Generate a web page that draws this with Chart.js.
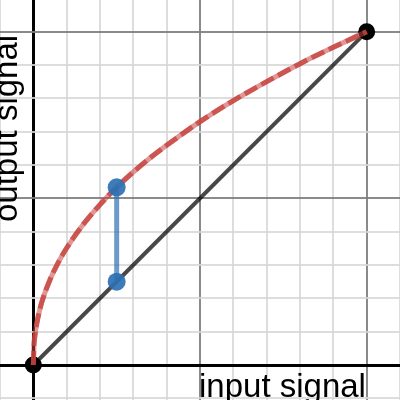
<!DOCTYPE html>
<html>
<head>
<meta charset="utf-8">
<script src="https://cdn.jsdelivr.net/npm/chart.js@4"></script>
<style>
html,body{margin:0;padding:0;background:#fff;}
#wrap{width:400px;height:400px;position:relative;}
</style>
</head>
<body>
<div id="wrap"><canvas id="c" width="400" height="400"></canvas></div>
<script>
// Values
const curveX = [0, 0.002, 0.005, 0.01, 0.02, 0.03, 0.05, 0.075, 0.1, 0.15, 0.2, 0.25, 0.3, 0.35, 0.4, 0.5, 0.6, 0.7, 0.8, 0.9, 1.0];
const curveY = [0, 0.06, 0.09, 0.123, 0.169, 0.203, 0.256, 0.308, 0.351, 0.422, 0.481, 0.533, 0.579, 0.621, 0.659, 0.73, 0.793, 0.85, 0.904, 0.953, 1.0];
const diagX = [0, 1];
const diagY = [0, 1];
const sampleX = [0.25, 0.25];
const sampleY = [0.25, 0.533];
const gridValues = [-0.1, 0, 0.1, 0.2, 0.3, 0.4, 0.5, 0.6, 0.7, 0.8, 0.9, 1.0, 1.1];
const xLabel = 'input signal';
const yLabel = 'output signal';

const toPts = (xs, ys) => xs.map((x, i) => ({x: x, y: ys[i]}));

function kind(v) {
  if (Math.abs(v) < 1e-9) return 'axis';
  if (Math.abs(v * 2 - Math.round(v * 2)) < 1e-6) return 'major';
  return 'minor';
}
function gridColor(ctx) {
  const k = kind(ctx.tick ? ctx.tick.value : NaN);
  if (k === 'axis') return '#000';
  if (k === 'major') return 'rgba(125,125,125,0.9)';
  return 'rgba(215,215,215,0.85)';
}
function gridWidth(ctx) {
  const k = kind(ctx.tick ? ctx.tick.value : NaN);
  return k === 'axis' ? 3 : 2;
}
function setTicks(scale) {
  scale.ticks = gridValues.map(v => ({value: v}));
}

const labelPlugin = {
  id: 'labels',
  afterDraw(chart) {
    const ctx = chart.ctx;
    ctx.save();
    ctx.fillStyle = '#000';
    ctx.font = '33px "Liberation Sans", Arial, sans-serif';
    ctx.textBaseline = 'alphabetic';
    ctx.textAlign = 'left';
    ctx.fillText(xLabel, 199, 397);
    ctx.translate(17, 222);
    ctx.rotate(-Math.PI / 2);
    ctx.fillText(yLabel, 0, 0);
    ctx.restore();
  }
};

new Chart(document.getElementById('c'), {
  type: 'scatter',
  data: {
    datasets: [
      {
        data: toPts(sampleX, sampleY),
        showLine: true,
        borderColor: 'rgba(45,112,179,0.7)',
        borderWidth: 5,
        pointRadius: 9,
        pointBackgroundColor: 'rgba(45,112,179,0.92)',
        pointBorderWidth: 0,
        order: 1
      },
      {
        data: toPts(curveX, curveY),
        showLine: true,
        borderColor: 'rgba(199,68,64,0.8)',
        borderWidth: 5,
        borderDash: [14, 5],
        pointRadius: 0,
        cubicInterpolationMode: 'monotone',
        order: 2
      },
      {
        data: toPts(curveX, curveY),
        showLine: true,
        borderColor: 'rgba(199,68,64,0.55)',
        borderWidth: 5,
        pointRadius: 0,
        cubicInterpolationMode: 'monotone',
        order: 3
      },
      {
        data: toPts(diagX, diagY),
        showLine: true,
        borderColor: 'rgba(0,0,0,0.72)',
        borderWidth: 4,
        pointRadius: 8.5,
        pointBackgroundColor: '#000',
        pointBorderWidth: 0,
        order: 4
      }
    ]
  },
  options: {
    responsive: false,
    animation: false,
    layout: {padding: 0, autoPadding: false},
    plugins: {legend: {display: false}, tooltip: {enabled: false}},
    scales: {
      x: {
        type: 'linear', min: -0.1, max: 1.1,
        ticks: {display: false},
        afterBuildTicks: setTicks,
        grid: {color: gridColor, lineWidth: gridWidth, drawTicks: false},
        border: {display: false}
      },
      y: {
        type: 'linear', min: -0.105, max: 1.095,
        ticks: {display: false},
        afterBuildTicks: setTicks,
        grid: {color: gridColor, lineWidth: gridWidth, drawTicks: false},
        border: {display: false}
      }
    }
  },
  plugins: [labelPlugin]
});
</script>
</body>
</html>
